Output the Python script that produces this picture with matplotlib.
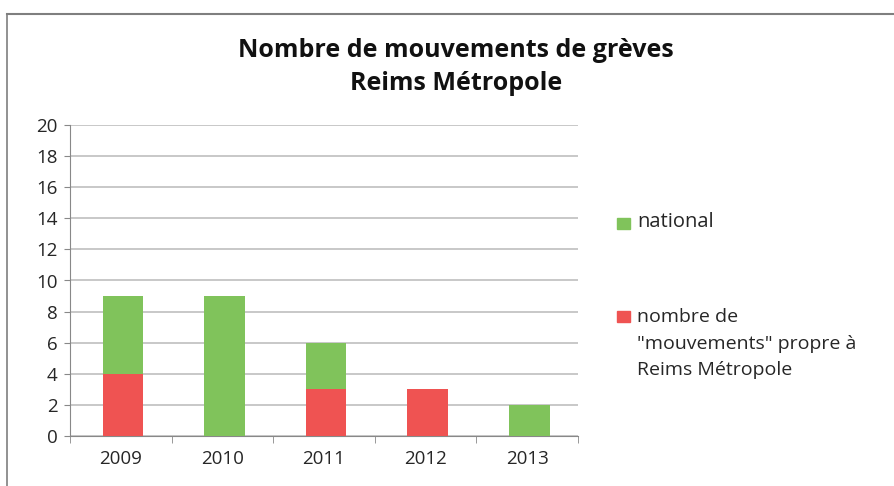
import matplotlib
matplotlib.use("Agg")
import matplotlib.pyplot as plt
from matplotlib.patches import Rectangle
from matplotlib.lines import Line2D
import numpy as np

plt.rcParams['font.family'] = ['Open Sans', 'DejaVu Sans']

annees = ['2009', '2010', '2011', '2012', '2013']
propre = [4, 0, 3, 3, 0]
national = [5, 9, 3, 0, 2]
lab_national = 'national'
lab_propre = 'nombre de\n"mouvements" propre à\nReims Métropole'
titre = 'Nombre de mouvements de grèves\nReims Métropole'

vert = '#80C35B'
rouge = '#EF5352'
gris = '#BFBFBF'
texte = '#262626'

W, H = 894, 486
fig = plt.figure(figsize=(W / 100, H / 100), dpi=100)

# cadre (haut + gauche seulement, le reste est coupé)
fig.add_artist(Line2D([7 / W, 1], [1 - 14 / H, 1 - 14 / H], color='#7F7F7F', lw=1.5))
fig.add_artist(Line2D([7 / W, 7 / W], [0, 1 - 14 / H], color='#7F7F7F', lw=1.2))

ax = fig.add_axes([70 / W, 50 / H, 508 / W, 311 / H])
x = np.arange(len(annees))
ax.bar(x + 0.02, propre, width=0.4, color=rouge, zorder=3)
ax.bar(x + 0.02, national, width=0.4, bottom=propre, color=vert, zorder=3)

ax.set_xlim(-0.5, len(annees) - 0.5)
ax.set_ylim(0, 20)
ax.set_yticks(range(0, 21, 2))
ax.yaxis.grid(True, color=gris, lw=1.2, zorder=0)
ax.set_xticks(x)
ax.set_xticklabels(annees)
ax.set_xticks(np.arange(-0.5, len(annees), 1), minor=True)
ax.tick_params(axis='x', which='major', length=0, pad=10, labelsize=13.5, labelcolor=texte)
ax.tick_params(axis='x', which='minor', length=5, color='#888888', direction='out')
ax.tick_params(axis='y', length=4, color='#888888', labelsize=13.5, labelcolor=texte, pad=5)
for s in ['top', 'right']:
    ax.spines[s].set_visible(False)
ax.spines['left'].set_color('#888888')
ax.spines['bottom'].set_color('#888888')

fig.text(456 / W, 1 - 67 / H, titre, ha='center', va='center', fontsize=18,
         fontweight='bold', linespacing=1.45, color='#111111')

# légende
fig.add_artist(Rectangle((617 / W, 1 - 229 / H), 13 / W, 11 / H, color=vert,
                         transform=fig.transFigure))
fig.text(637 / W, 1 - 222 / H, lab_national, va='center', fontsize=14.5, color=texte)
fig.add_artist(Rectangle((617 / W, 1 - 322 / H), 13 / W, 11 / H, color=rouge,
                         transform=fig.transFigure))
fig.text(637 / W, 1 - 308 / H, lab_propre, va='top', fontsize=14, color=texte,
         linespacing=1.62)

fig.savefig('out.png', dpi=100)
